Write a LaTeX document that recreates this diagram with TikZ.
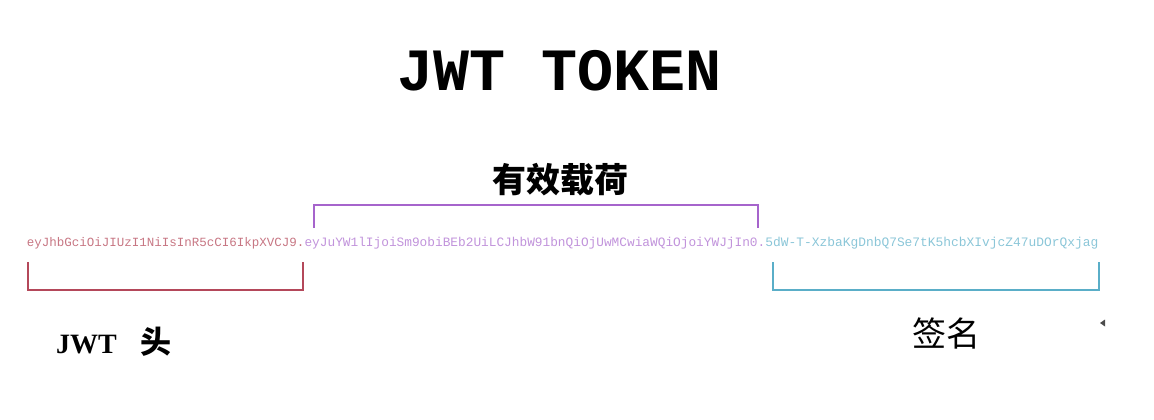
\documentclass[tikz,border=0pt]{standalone}
\usepackage{fontspec}
\setmainfont{Liberation Serif}
\setmonofont{Liberation Mono}
\newfontfamily\cjk{Noto Sans CJK SC}
\usetikzlibrary{positioning}
\definecolor{hdrred}{HTML}{B4485A}
\definecolor{pldpurple}{HTML}{A664CC}
\definecolor{sigcyan}{HTML}{5AAEC8}
\begin{document}
\begin{tikzpicture}[
    x=1pt, y=-1pt,
    part/.style   ={inner sep=0pt, outer sep=0pt, anchor=west,
                    font=\ttfamily\fontsize{12.8}{14}\selectfont},
    bracket/.style={line width=2pt},
    label/.style  ={inner sep=0pt},
]
\useasboundingbox (0,0) rectangle (1154,420);
\node[font=\ttfamily\bfseries\fontsize{60}{62}\selectfont] (title) at (560,71) {JWT TOKEN};
% token split into its three parts
\node[part, text=hdrred!75, font=\ttfamily\fontsize{12.5}{14}\selectfont] (hdr) at (27,243)
     {eyJhbGciOiJIUzI1NiIsInR5cCI6IkpXVCJ9.};
\node[part, text=pldpurple!70, right=0pt of hdr] (pld)
     {eyJuYW1lIjoiSm9obiBEb2UiLCJhbW91bnQiOjUwMCwiaWQiOjoiYWJjIn0.};
\node[part, text=sigcyan!70, font=\ttfamily\fontsize{12.9}{14}\selectfont, right=0pt of pld] (sig)
     {5dW-T-XzbaKgDnbQ7Se7tK5hcbXIvjcZ47uDOrQxjag};
% brackets
\draw[bracket, hdrred] ([xshift=1pt, yshift=-13pt]hdr.south west) -- ++(0,28) -| ([xshift=-2pt, yshift=-13pt]hdr.south east);
\draw[bracket, pldpurple] ([xshift=9pt, yshift=9pt]pld.north west) -- ++(0,-23) -| ([xshift=-7pt, yshift=9pt]pld.north east);
\draw[bracket, sigcyan] ([xshift=8pt, yshift=-13pt]sig.south west) -- ++(0,28) -| ([xshift=1pt, yshift=-13pt]sig.south east);
\node[label, font=\cjk\bfseries\fontsize{34}{36}\selectfont] (pldlabel) at (560,180) {有效载荷};
\node[label, anchor=west] (hdrlabel) at (56,342)
     {\fontsize{28}{30}\selectfont\bfseries JWT\hspace{24pt}{\cjk\fontsize{31}{33}\selectfont 头}};
\node[label, font=\cjk\fontsize{34}{36}\selectfont] (siglabel) at (946,333) {签名};
\fill[black!70] (1100,323) -- (1105,319.5) -- (1105,326.5) -- cycle;
\end{tikzpicture}
\end{document}
